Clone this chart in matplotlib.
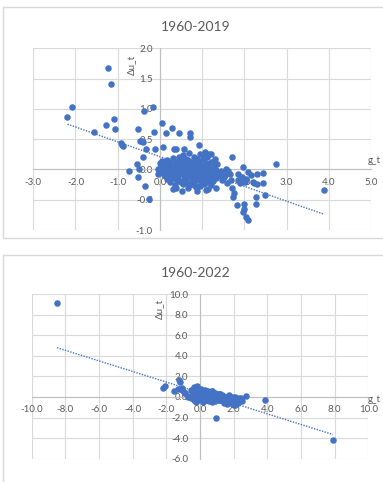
import matplotlib
matplotlib.use("Agg")
import matplotlib.pyplot as plt
import matplotlib.patches as patches
import numpy as np

plt.rcParams['font.family'] = ['Lato', 'DejaVu Sans']

g_left = [-2.19, -2.08, -1.56, -1.28, -1.22, -1.16, -1.09, -1.07, -0.93, -0.90,
          -0.87, -0.73, -0.55, -0.53, -0.52, -0.49, -0.47, -0.43, -0.39, -0.41,
          -0.38, -0.35, -0.32, -0.25, -0.17, -0.14, -0.12, -0.04, 0.04, 0.29,
          0.15, 0.45, 0.71, 0.72, 0.08, 0.33, 0.39, 0.57, 0.92, 1.08, 1.17]
du_left = [0.86, 1.03, 0.61, 0.74, 1.67, 1.41, 0.83, 0.67, 0.44, 0.41,
           0.38, -0.03, 0.09, 0.67, -0.13, 0.00, 0.47, 0.47, 0.46, 0.20,
           0.96, -0.27, 0.33, -0.48, 1.03, 0.61, 0.33, -0.07, 0.77, 0.68,
           0.60, 0.60, 0.60, 0.54, 0.37, 0.33, 0.33, 0.33, 0.41, 0.29, 0.26]

g_right = [1.72, 1.98, 2.74, 3.89, 1.57, 1.62, 1.66, 1.55, 1.60, 1.86,
           2.09, 2.29, 2.45, 2.23, 2.30, 2.45, 1.69, 1.72, 1.75, 1.73,
           1.82, 1.99, 1.99, 1.97, 2.27, 2.27, 2.50, 2.03, 2.09, 1.90,
           1.85, 2.02, 1.95, 2.05, 2.15, 1.48, 1.52, 1.58, 2.20, 1.40, 1.45]
du_right = [0.20, 0.04, 0.09, -0.34, 0.00, -0.03, -0.08, -0.10, -0.05, -0.07,
            -0.05, -0.07, -0.06, -0.22, -0.24, -0.23, -0.18, -0.30, -0.39, -0.45,
            -0.58, -0.57, -0.66, -0.70, -0.46, -0.57, -0.43, -0.78, -0.83, -0.22,
            -0.18, -0.20, -0.12, -0.15, -0.10, -0.17, -0.13, -0.22, -0.20, -0.10, -0.02]

g_core = [0.55, 0.70, 0.95, 1.05, 1.20,
          0.30, 0.45, 0.62, 0.80, 0.88, 1.12, 1.30,
          0.05, 0.18, 0.38, 0.50, 0.66, 0.74, 0.92, 1.02, 1.25,
          0.00, 0.12, 0.25, 0.35, 0.48, 0.58, 0.70, 0.84, 0.97, 1.10, 1.22, 1.35,
          0.02, 0.15, 0.22, 0.32, 0.42, 0.53, 0.63, 0.78, 0.88, 1.00, 1.15, 1.28,
          -0.05, 0.08, 0.20, 0.28, 0.40, 0.50, 0.60, 0.68, 0.76, 0.86, 0.95, 1.05, 1.18, 1.32,
          0.05, 0.14, 0.26, 0.36, 0.46, 0.55, 0.65, 0.72, 0.82, 0.92, 1.02, 1.12, 1.24, 1.38,
          0.10, 0.22, 0.33, 0.44, 0.52, 0.60, 0.70, 0.80, 0.90, 1.00, 1.10, 1.20, 1.30,
          0.18, 0.30, 0.42, 0.56, 0.66, 0.76, 0.86, 0.96, 1.08, 1.18, 1.34,
          0.25, 0.40, 0.50, 0.62, 0.74, 0.84, 0.98, 1.12, 1.26,
          0.35, 0.55, 0.70, 0.80, 0.94, 1.05, 1.22,
          0.39, 0.66, 0.85, 1.15, 1.33,
          0.32, 0.52, 0.88, 1.10]
du_core = [0.24, 0.27, 0.25, 0.22, 0.26,
           0.19, 0.21, 0.18, 0.20, 0.17, 0.21, 0.18,
           0.14, 0.16, 0.13, 0.15, 0.16, 0.12, 0.14, 0.17, 0.13,
           0.10, 0.09, 0.11, 0.08, 0.12, 0.10, 0.09, 0.11, 0.08, 0.10, 0.12, 0.09,
           0.05, 0.04, 0.06, 0.03, 0.05, 0.07, 0.04, 0.05, 0.06, 0.03, 0.05, 0.04,
           0.00, -0.01, 0.01, 0.02, -0.02, 0.00, 0.01, -0.01, 0.02, 0.00, -0.02, 0.01, 0.00, -0.01,
           -0.05, -0.04, -0.06, -0.05, -0.03, -0.06, -0.05, -0.04, -0.06, -0.05, -0.07, -0.04, -0.05, -0.06,
           -0.10, -0.09, -0.11, -0.10, -0.08, -0.12, -0.10, -0.09, -0.11, -0.10, -0.12, -0.09, -0.11,
           -0.15, -0.14, -0.16, -0.15, -0.13, -0.16, -0.14, -0.15, -0.17, -0.15, -0.14,
           -0.20, -0.19, -0.21, -0.20, -0.22, -0.19, -0.20, -0.21, -0.19,
           -0.25, -0.24, -0.26, -0.25, -0.27, -0.24, -0.25,
           -0.30, -0.31, -0.29, -0.32, -0.30,
           -0.33, -0.36, -0.35, -0.34]

# quarters added in 2020-2022
g_extra = [-8.50, 7.90, 0.95, 1.60, 1.40, 0.70, 0.20, -0.10, 2.00]
du_extra = [9.10, -4.20, -2.00, -0.70, -0.55, -0.45, -0.50, -0.30, -0.40]

titles = ['1960-2019', '1960-2022']
x_ticks = [np.arange(-3.0, 5.01, 1.0), np.arange(-10.0, 10.01, 2.0)]
y_ticks = [np.arange(-1.0, 2.01, 0.5), np.arange(-6.0, 10.01, 2.0)]

blue = '#4472C4'
grey = '#595959'

g_19 = np.array(g_left + g_core + g_right)
du_19 = np.array(du_left + du_core + du_right)
g_22 = np.concatenate([g_19, g_extra])
du_22 = np.concatenate([du_19, du_extra])

W, H = 383, 482
fig = plt.figure(figsize=(W / 100, H / 100), dpi=100)

# chart-area borders (in pixels)
for (x0, y0, x1, y1) in [(3, 7, 390, 238), (3, 255, 390, 490)]:
    fig.patches.append(patches.Rectangle(
        (x0 / W, 1 - y1 / H), (x1 - x0) / W, (y1 - y0) / H,
        transform=fig.transFigure, fill=False, edgecolor='#D9D9D9', linewidth=1))

boxes = [(33.3, 48.3, 370.9, 230.0), (31.7, 294.0, 368.3, 458.7)]
title_y = [27, 273]
ylab_pos = [(131, 65), (160, 309)]
glab_pos = [(368, 161), (368, 400)]
ypads = [5.0, 8.5]
xpads = [6.5, 6.0]
datasets = [(g_19, du_19), (g_22, du_22)]

for i in range(2):
    l, t, r, b = boxes[i]
    ax = fig.add_axes([l / W, 1 - b / H, (r - l) / W, (b - t) / H])
    ax.set_axisbelow(True)
    gx, du = datasets[i]

    ax.scatter(gx, du, s=22, color=blue, linewidths=0, zorder=3)
    k, c = np.polyfit(gx, du, 1)
    xs = np.array([gx.min(), gx.max()])
    ax.plot(xs, k * xs + c, linestyle=(0, (1, 1)), color=blue, linewidth=1.0, zorder=2)

    ax.set_xlim(x_ticks[i][0], x_ticks[i][-1])
    ax.set_ylim(y_ticks[i][0], y_ticks[i][-1])
    ax.set_xticks(x_ticks[i])
    ax.set_yticks(y_ticks[i])
    ax.xaxis.set_major_formatter(matplotlib.ticker.FormatStrFormatter('%.1f'))
    ax.yaxis.set_major_formatter(matplotlib.ticker.FormatStrFormatter('%.1f'))
    ax.grid(True, color='#D9D9D9', linewidth=0.8)
    ax.tick_params(axis='x', length=0, pad=xpads[i], labelsize=7, labelcolor=grey)
    ax.tick_params(axis='y', length=0, pad=ypads[i], labelsize=7, labelcolor=grey)
    for s in ['top', 'right']:
        ax.spines[s].set_visible(False)
    ax.spines['left'].set_position(('data', 0))
    ax.spines['bottom'].set_position(('data', 0))
    for s in ['left', 'bottom']:
        ax.spines[s].set_color('#BFBFBF')
        ax.spines[s].set_linewidth(0.8)
    ax.patch.set_alpha(0)

    fig.text(196 / W, 1 - title_y[i] / H, titles[i], ha='center', va='center',
             fontsize=10, color=grey)
    fig.text(ylab_pos[i][0] / W, 1 - ylab_pos[i][1] / H, 'Δu_t', rotation=90,
             ha='center', va='center', fontsize=7, color=grey)
    fig.text(glab_pos[i][0] / W, 1 - glab_pos[i][1] / H, 'g_t',
             ha='left', va='center', fontsize=7, color=grey)

fig.savefig('out.png', dpi=100)
